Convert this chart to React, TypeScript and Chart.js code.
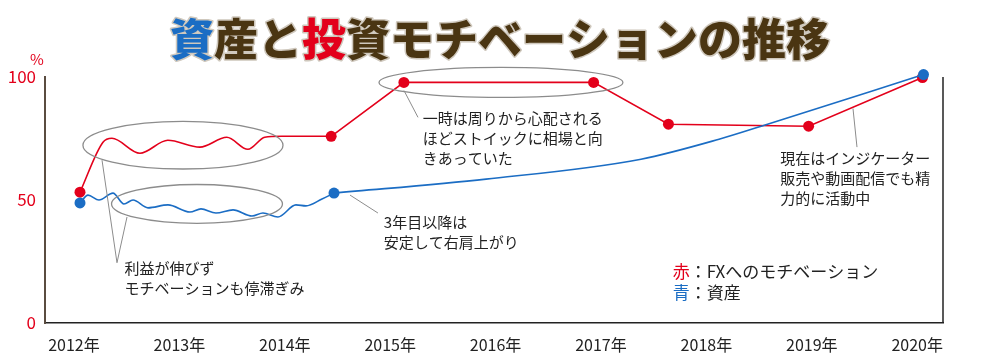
import { useEffect, useRef } from "react";
import { Chart, registerables } from "chart.js";

Chart.register(...registerables);

const FONT = '"Noto Sans CJK JP", "Noto Sans", sans-serif';
const RED = "#e3001b";
const BLUE = "#1b6dc4";
const BROWN = "#4a3512";
const INK = "#222222";
const GREY = "#8c8c8c";

// ---- scales ----
const xTickYears = [2012, 2013, 2014, 2015, 2016, 2017, 2018, 2019, 2020];
const yTickValues = [0, 50, 100];
const xMin = 2011.725;
const xMax = 2020.245;

// ---- red: FX motivation ----
const redWaveX = [2012.057, 2012.275, 2012.36, 2012.626, 2012.89, 2013.195, 2013.45, 2013.65, 2013.81, 2013.97, 2014.44];
const redWaveY = [53.2, 73.5, 75.1, 69.0, 74.3, 71.5, 75.5, 70.6, 75.5, 75.9, 75.9];
const redMainX = [2014.44, 2015.13, 2016.93, 2017.64, 2018.97, 2020.05];
const redMainY = [75.9, 97.8, 97.8, 80.8, 80.0, 99.8];

// ---- blue: assets ----
const blueWaveX = [
  2012.057, 2012.133, 2012.237, 2012.37, 2012.474, 2012.56, 2012.702, 2012.892, 2013.1, 2013.205,
  2013.347, 2013.509, 2013.689, 2013.793, 2013.935, 2014.106, 2014.201, 2014.353, 2014.467,
];
const blueWaveY = [
  48.8, 52.0, 50.0, 52.8, 48.4, 50.0, 46.8, 48.0, 45.1, 46.4,
  44.7, 46.0, 43.5, 44.7, 43.1, 48.0, 47.6, 50.4, 52.8,
];
const blueCurveX = [2014.467, 2015.91, 2017.38, 2018.12, 2018.58, 2020.06];
const blueCurveY = [52.8, 58.5, 66.6, 74.7, 80.8, 101.0];

// ---- annotations (data coordinates) ----
const ellipseCX = [2013.034, 2013.167, 2016.051];
const ellipseCY = [72.3, 48.4, 97.8];
const ellipseRX = [0.949, 0.811, 1.157];
const ellipseRY = [9.7, 7.9, 6.1];

const calloutX1 = [2012.266, 2012.503, 2015.131, 2014.619, 2019.391];
const calloutY1 = [66.2, 43.1, 94.5, 52.0, 87.2];
const calloutX2 = [2012.408, 2012.408, 2015.264, 2014.884, 2019.429];
const calloutY2 = [24.5, 24.5, 83.6, 44.7, 71.5];

const noteX = [2012.48, 2015.31, 2014.94, 2018.70];
const noteY = [22.1, 83.2, 41.1, 67.0];
const noteLines = [
  ["利益が伸びず", "モチベーションも停滞ぎみ"],
  ["一時は周りから心配される", "ほどストイックに相場と向", "きあっていた"],
  ["3年目以降は", "安定して右肩上がり"],
  ["現在はインジケーター", "販売や動画配信でも精", "力的に活動中"],
];

const legendX = 2017.68;
const legendY = 20.9;
const legendKeys = ["赤", "青"];
const legendTexts = ["：FXへのモチベーション", "：資産"];
const legendColors = [RED, BLUE];

const titleParts = ["資", "産と", "投", "資モチベーションの推移"];
const titleColors = [BLUE, BROWN, RED, BROWN];

const zip = (xs: number[], ys: number[]) => xs.map((x, i) => ({ x, y: ys[i] }));

const decorPlugin = {
  id: "decor",
  afterDraw(chart: any) {
    const { ctx, chartArea } = chart;
    const xs = chart.scales.x;
    const ys = chart.scales.y;
    const px = (v: number) => xs.getPixelForValue(v);
    const py = (v: number) => ys.getPixelForValue(v);
    ctx.save();

    // right frame line
    ctx.strokeStyle = INK;
    ctx.lineWidth = 1.5;
    ctx.beginPath();
    ctx.moveTo(chartArea.right, chartArea.top);
    ctx.lineTo(chartArea.right, chartArea.bottom);
    ctx.stroke();

    // ellipses
    ctx.strokeStyle = GREY;
    ctx.lineWidth = 1.3;
    ellipseCX.forEach((cx, i) => {
      const cxp = px(cx);
      const cyp = py(ellipseCY[i]);
      const rx = px(cx + ellipseRX[i]) - cxp;
      const ry = cyp - py(ellipseCY[i] + ellipseRY[i]);
      ctx.beginPath();
      ctx.ellipse(cxp, cyp, rx, ry, 0, 0, Math.PI * 2);
      ctx.stroke();
    });

    // callout lines
    ctx.lineWidth = 1;
    calloutX1.forEach((x1, i) => {
      ctx.beginPath();
      ctx.moveTo(px(x1), py(calloutY1[i]));
      ctx.lineTo(px(calloutX2[i]), py(calloutY2[i]));
      ctx.stroke();
    });

    // notes
    ctx.fillStyle = INK;
    ctx.font = `15px ${FONT}`;
    ctx.textAlign = "left";
    ctx.textBaseline = "middle";
    noteLines.forEach((lines, i) => {
      const x0 = px(noteX[i]);
      const y0 = py(noteY[i]);
      lines.forEach((t, j) => ctx.fillText(t, x0, y0 + j * 20));
    });

    // legend
    ctx.font = `17px ${FONT}`;
    const lx = px(legendX);
    const ly = py(legendY);
    legendKeys.forEach((k, i) => {
      ctx.fillStyle = legendColors[i];
      ctx.fillText(k, lx, ly + i * 21);
      const w = ctx.measureText(k).width;
      ctx.fillStyle = INK;
      ctx.fillText(legendTexts[i], lx + w, ly + i * 21);
    });

    // percent sign
    ctx.fillStyle = RED;
    ctx.font = `15px ${FONT}`;
    ctx.textAlign = "center";
    ctx.fillText("%", chartArea.left - 8, py(100) - 18);

    // title
    ctx.font = `900 44px ${FONT}`;
    ctx.textAlign = "left";
    const widths = titleParts.map((t) => ctx.measureText(t).width);
    const total = widths.reduce((a, b) => a + b, 0);
    let tx = 500 - total / 2;
    const ty = 39;
    ctx.lineJoin = "round";
    titleParts.forEach((t, i) => {
      ctx.strokeStyle = "#cfc8bd";
      ctx.lineWidth = 3;
      ctx.strokeText(t, tx, ty);
      ctx.fillStyle = titleColors[i];
      ctx.fillText(t, tx, ty);
      tx += widths[i];
    });

    ctx.restore();
  },
};

export default function App() {
  const ref = useRef<HTMLCanvasElement | null>(null);

  useEffect(() => {
    if (!ref.current) return;
    const chart = new Chart(ref.current, {
      type: "line",
      data: {
        datasets: [
          {
            label: "資産",
            data: zip(blueCurveX, blueCurveY),
            borderColor: BLUE,
            backgroundColor: BLUE,
            borderWidth: 1.6,
            cubicInterpolationMode: "monotone",
            pointRadius: (c: any) => (c.dataIndex === 0 || c.dataIndex === blueCurveX.length - 1 ? 5.5 : 0),
            pointHoverRadius: 0,
            pointBorderWidth: 0,
            clip: false,
            order: 0,
          },
          {
            label: "資産（初期）",
            data: zip(blueWaveX, blueWaveY),
            borderColor: BLUE,
            backgroundColor: BLUE,
            borderWidth: 1.6,
            cubicInterpolationMode: "monotone",
            pointRadius: (c: any) => (c.dataIndex === 0 ? 5.5 : 0),
            pointHoverRadius: 0,
            pointBorderWidth: 0,
            clip: false,
            order: 1,
          },
          {
            label: "FXへのモチベーション",
            data: zip(redMainX, redMainY),
            borderColor: RED,
            backgroundColor: RED,
            borderWidth: 1.6,
            tension: 0,
            pointRadius: 5.5,
            pointBorderWidth: 0,
            clip: false,
            order: 2,
          },
          {
            label: "FXへのモチベーション（初期）",
            data: zip(redWaveX, redWaveY),
            borderColor: RED,
            backgroundColor: RED,
            borderWidth: 1.6,
            cubicInterpolationMode: "monotone",
            pointRadius: (c: any) => (c.dataIndex === 0 ? 5.5 : 0),
            pointBorderWidth: 0,
            clip: false,
            order: 3,
          },
        ],
      },
      options: {
        responsive: false,
        animation: false,
        devicePixelRatio: 1,
        layout: { padding: { top: 77, right: 57, left: 0, bottom: 0 } },
        plugins: {
          legend: { display: false },
          title: { display: false },
          tooltip: { enabled: false },
        },
        scales: {
          x: {
            type: "linear",
            min: xMin,
            max: xMax,
            afterFit: (s: any) => {
              s.height = 39;
            },
            afterBuildTicks: (s: any) => {
              s.ticks = xTickYears.map((v) => ({ value: v }));
            },
            grid: { display: false, drawTicks: false },
            border: { display: true, color: INK, width: 1.5 },
            ticks: {
              autoSkip: false,
              maxRotation: 0,
              padding: 12,
              color: INK,
              font: { family: FONT, size: 16 },
              callback: (v: any) => `${v}年`,
            },
          },
          y: {
            type: "linear",
            min: 0,
            max: 100,
            afterFit: (s: any) => {
              s.width = 45;
            },
            afterBuildTicks: (s: any) => {
              s.ticks = yTickValues.map((v) => ({ value: v }));
            },
            grid: { display: false, drawTicks: false },
            border: { display: true, color: "#5a4c40", width: 2 },
            ticks: {
              padding: 9,
              color: RED,
              font: { family: FONT, size: 17 },
            },
          },
        },
      },
      plugins: [decorPlugin],
    } as any);
    return () => chart.destroy();
  }, []);

  return (
    <div style={{ position: "absolute", left: 0, top: 0, width: 1000, height: 362, background: "#fff" }}>
      <canvas ref={ref} width={1000} height={362} />
    </div>
  );
}
